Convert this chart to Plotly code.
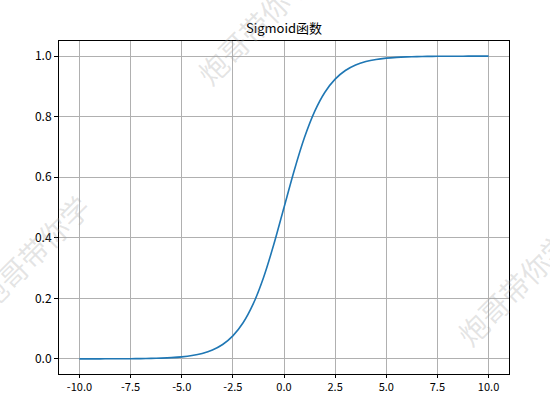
import plotly.graph_objects as go

x_vals = [-10.0, -9.5, -9.0, -8.5, -8.0, -7.5, -7.0, -6.5, -6.0, -5.5, -5.0, -4.5, -4.0, -3.5,
          -3.0, -2.5, -2.0, -1.5, -1.0, -0.5, 0.0, 0.5, 1.0, 1.5, 2.0, 2.5, 3.0, 3.5, 4.0, 4.5,
          5.0, 5.5, 6.0, 6.5, 7.0, 7.5, 8.0, 8.5, 9.0, 9.5, 10.0]
y_vals = [0.0000, 0.0001, 0.0001, 0.0002, 0.0003, 0.0006, 0.0009, 0.0015, 0.0025, 0.0041, 0.0067, 0.0110,
          0.0180, 0.0293, 0.0474, 0.0759, 0.1192, 0.1824, 0.2689, 0.3775, 0.5000, 0.6225, 0.7311, 0.8176,
          0.8808, 0.9241, 0.9526, 0.9707, 0.9820, 0.9890, 0.9933, 0.9959, 0.9975, 0.9985, 0.9991, 0.9994,
          0.9997, 0.9998, 0.9999, 0.9999, 1.0000]

x_ticks = [-10.0, -7.5, -5.0, -2.5, 0.0, 2.5, 5.0, 7.5, 10.0]
x_tick_text = ["-10.0", "-7.5", "-5.0", "-2.5", "0.0", "2.5", "5.0", "7.5", "10.0"]
y_ticks = [0.0, 0.2, 0.4, 0.6, 0.8, 1.0]
y_tick_text = ["0.0", "0.2", "0.4", "0.6", "0.8", "1.0"]
title_text = "Sigmoid函数"
watermark = "炮哥带你学"

FONT = "Noto Sans CJK SC"

fig = go.Figure()
fig.add_trace(go.Scatter(x=x_vals, y=y_vals, mode="lines", line_shape="spline",
                         line=dict(color="#1f77b4", width=1.6, smoothing=0.8), showlegend=False))

L, R, T, B = 59, 41, 41, 19
W, H = 550, 393
pw, ph = W - L - R, H - T - B

def px2paper(px, py):
    return (px - L) / pw, (H - B - py) / ph

annots = []
for (cx, cy) in [(253, 27), (32, 252), (513, 288)]:
    ax_, ay_ = px2paper(cx, cy)
    annots.append(dict(text=watermark, x=ax_, y=ay_, xref="paper", yref="paper",
                       showarrow=False, textangle=-45,
                       font=dict(family=FONT, size=29, color="rgba(160,160,160,0.28)"),
                       xanchor="center", yanchor="middle"))

fig.update_layout(
    width=W, height=H,
    margin=dict(l=L, r=R, t=T, b=B, autoexpand=False),
    paper_bgcolor="white", plot_bgcolor="white",
    font=dict(family=FONT, size=12, color="black"),
    title=dict(text=title_text, x=(L + pw / 2) / W, xanchor="center",
               y=1 - 28 / H, yanchor="middle", font=dict(family=FONT, size=13, color="black")),
    annotations=annots,
    xaxis=dict(range=[-11, 11], tickvals=x_ticks, ticktext=x_tick_text, automargin=False,
               showgrid=True, gridcolor="#b0b0b0", gridwidth=0.8, zeroline=False,
               showline=True, linecolor="black", linewidth=1, mirror=True,
               ticks="outside", ticklen=3, tickcolor="black", tickfont=dict(size=11)),
    yaxis=dict(range=[-0.05, 1.05], tickvals=y_ticks, ticktext=y_tick_text, automargin=False,
               showgrid=True, gridcolor="#b0b0b0", gridwidth=0.8, zeroline=False,
               showline=True, linecolor="black", linewidth=1, mirror=True,
               ticks="outside", ticklen=4, tickcolor="black", tickfont=dict(size=12)),
)

fig.write_html("out.html")
